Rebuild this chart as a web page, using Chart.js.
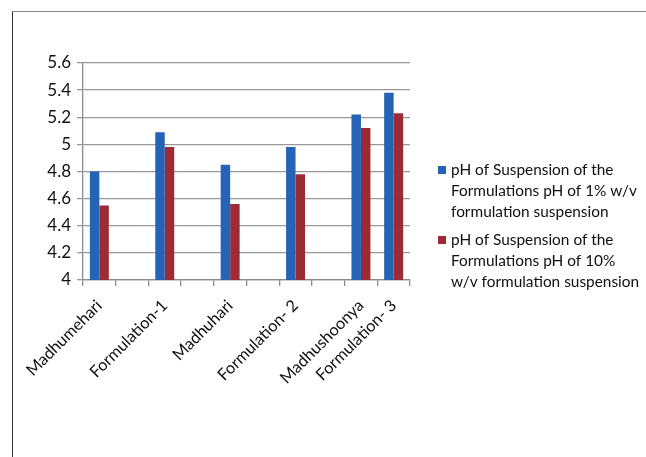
<!DOCTYPE html>
<html>
<head>
<meta charset="utf-8">
<script src="https://cdn.jsdelivr.net/npm/chart.js@4.4.1/dist/chart.umd.min.js"></script>
<style>
html,body{margin:0;padding:0;background:#fff;}
#wrap{position:relative;width:646px;height:457px;overflow:hidden;}
#frame{position:absolute;left:12px;top:11px;width:700px;height:500px;border-top:1.5px solid #8a8a8a;border-left:1.5px solid #333;}
canvas{position:absolute;left:0;top:0;}
</style>
</head>
<body>
<div id="wrap"><div id="frame"></div><canvas id="c" width="646" height="457"></canvas></div>
<script>
const categories = ["Madhumehari","","Formulation-1","","Madhuhari","","Formulation- 2","","Madhushoonya","Formulation- 3"];
const ph1 = [4.80,null,5.09,null,4.85,null,4.98,null,5.22,5.38];
const ph10 = [4.55,null,4.98,null,4.56,null,4.78,null,5.12,5.23];
const yTicks = [4,4.2,4.4,4.6,4.8,5,5.2,5.4,5.6];
const legendLines1 = ["pH of Suspension of the","Formulations pH of 1% w/v","formulation suspension"];
const legendLines2 = ["pH of Suspension of the","Formulations pH of 10%","w/v formulation suspension"];

const BLUE = "#2563b6", RED = "#9b2c36";
const FONT = "Lato, 'Open Sans', sans-serif";

const legendPlugin = {
  id: 'sideLegend',
  afterDraw(chart) {
    const ctx = chart.ctx;
    ctx.save();
    ctx.font = "15.4px " + FONT;
    ctx.textBaseline = "middle";
    const items = [[legendLines1, chart.data.datasets[0].backgroundColor, 170],
                   [legendLines2, chart.data.datasets[1].backgroundColor, 240]];
    items.forEach(([lines, col, y0]) => {
      ctx.fillStyle = col;
      ctx.fillRect(438, y0 - 4, 8, 8);
      ctx.fillStyle = "#111";
      lines.forEach((t, i) => ctx.fillText(t, 451, y0 + i * 20.8));
    });
    ctx.restore();
  }
};

new Chart(document.getElementById('c'), {
  type: 'bar',
  data: {
    labels: categories,
    datasets: [
      {label: legendLines1.join(' '), data: ph1, backgroundColor: BLUE, barPercentage: 1, categoryPercentage: 0.58},
      {label: legendLines2.join(' '), data: ph10, backgroundColor: RED, barPercentage: 1, categoryPercentage: 0.58}
    ]
  },
  options: {
    responsive: false,
    animation: false,
    devicePixelRatio: 1,
    layout: {padding: {left: 30, top: 63, right: 236, bottom: 50}},
    plugins: {legend: {display: false}, tooltip: {enabled: false}},
    scales: {
      x: {
        grid: {display: true, drawOnChartArea: false, offset: true, color: '#8c8c8c', lineWidth: 1.3, tickLength: 6},
        border: {color: '#8c8c8c', width: 1.3},
        ticks: {autoSkip: false, maxRotation: 45, minRotation: 45, color: '#111', font: {family: FONT, size: 16.3}, padding: 10},
        afterFit(s) { s.height = 127; }
      },
      y: {
        min: 4, max: 5.6,
        afterBuildTicks(s) { s.ticks = yTicks.map(v => ({value: v})); },
        grid: {color: '#999999', lineWidth: 1.3, tickLength: 6},
        border: {color: '#8c8c8c', width: 1.3},
        ticks: {color: '#111', font: {family: FONT, size: 17}, padding: 6, callback: v => String(Math.round(v*10)/10)},
        afterFit(s) { s.width = 53; }
      }
    }
  },
  plugins: [legendPlugin]
});
</script>
</body>
</html>
